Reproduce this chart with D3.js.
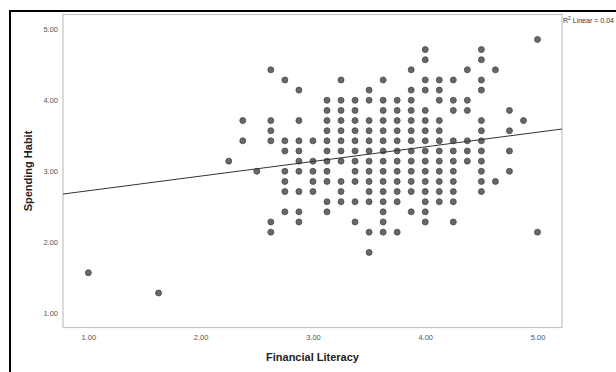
<!DOCTYPE html>
<html>
<head>
<meta charset="utf-8">
<script src="https://cdn.jsdelivr.net/npm/d3@7/dist/d3.min.js"></script>
<style>
  html, body { margin: 0; padding: 0; background: #fff; }
  svg { display: block; }
</style>
</head>
<body>
<svg id="chart" width="616" height="372"></svg>
<script>
// ---- Data ----
// Spending Habit levels (rows of the grid) and Financial Literacy values observed on each row
const spendingLevels = [4.857, 4.714, 4.571, 4.429, 4.286, 4.143, 4.000, 3.857, 3.714, 3.571,
  3.429, 3.286, 3.143, 3.000, 2.857, 2.714, 2.571, 2.429, 2.286, 2.143, 1.857, 1.571, 1.286];
const literacyAtLevel = [
  [5.0],
  [4.0, 4.5],
  [4.0, 4.5],
  [2.625, 3.875, 4.375, 4.625],
  [2.75, 3.25, 3.625, 4.0, 4.125, 4.25, 4.5],
  [2.875, 3.5, 3.875, 4.0, 4.125, 4.5],
  [3.125, 3.25, 3.375, 3.5, 3.625, 3.75, 3.875, 4.125, 4.25, 4.375],
  [3.125, 3.25, 3.375, 3.625, 3.75, 3.875, 4.0, 4.25, 4.375, 4.75],
  [2.375, 2.625, 2.875, 3.125, 3.25, 3.375, 3.5, 3.625, 3.75, 3.875, 4.0, 4.125, 4.5, 4.875],
  [2.625, 3.125, 3.25, 3.375, 3.5, 3.625, 3.75, 3.875, 4.0, 4.125, 4.5, 4.75],
  [2.375, 2.625, 2.75, 2.875, 3.0, 3.125, 3.25, 3.375, 3.5, 3.625, 3.75, 3.875, 4.0, 4.125, 4.25, 4.375, 4.5],
  [2.75, 2.875, 3.125, 3.25, 3.375, 3.5, 3.625, 3.75, 3.875, 4.0, 4.125, 4.25, 4.375, 4.5, 4.75],
  [2.25, 2.875, 3.0, 3.125, 3.25, 3.375, 3.5, 3.625, 3.75, 3.875, 4.0, 4.125, 4.25, 4.375, 4.5],
  [2.5, 2.75, 2.875, 3.0, 3.125, 3.375, 3.5, 3.625, 3.75, 3.875, 4.0, 4.125, 4.25, 4.5, 4.75],
  [2.75, 3.0, 3.125, 3.25, 3.375, 3.5, 3.625, 3.75, 3.875, 4.0, 4.125, 4.25, 4.5, 4.625],
  [2.75, 2.875, 3.0, 3.25, 3.5, 3.625, 3.75, 3.875, 4.0, 4.125, 4.25, 4.5],
  [3.125, 3.25, 3.375, 3.5, 3.625, 3.75, 4.0, 4.125, 4.25],
  [2.75, 2.875, 3.125, 3.625, 3.875, 4.0],
  [2.625, 2.875, 3.375, 3.625, 4.0, 4.25],
  [2.625, 3.5, 3.625, 3.75, 5.0],
  [3.5],
  [1.0],
  [1.625]
];
const xTicks = [1, 2, 3, 4, 5];
const yTicks = [1, 2, 3, 4, 5];
const fitIntercept = 2.52;   // fit line
const fitSlope = 0.206;
const fitLabel = "Linear = 0.04";
const xTitle = "Financial Literacy";
const yTitle = "Spending Habit";

// ---- Layout ----
const plot = { left: 63, right: 562, top: 14.5, bottom: 327.5 };
const x = d3.scaleLinear().domain([0.774, 5.218]).range([plot.left, plot.right]);
const y = d3.scaleLinear().domain([0.80, 5.208]).range([plot.bottom, plot.top]);

const svg = d3.select("#chart");
const font = "'Liberation Sans', Arial, sans-serif";

// outer black frame (left and top edges visible)
svg.append("line").attr("x1", 10).attr("x2", 10).attr("y1", 10).attr("y2", 372)
  .attr("stroke", "#000").attr("stroke-width", 2);
svg.append("line").attr("x1", 9).attr("x2", 616).attr("y1", 11).attr("y2", 11)
  .attr("stroke", "#000").attr("stroke-width", 2);

// plot frame
svg.append("rect")
  .attr("x", plot.left).attr("y", plot.top)
  .attr("width", plot.right - plot.left).attr("height", plot.bottom - plot.top)
  .attr("fill", "#fff").attr("stroke", "#c4c4c4").attr("stroke-width", 1.2);

// axes (labels only, no tick marks / domain)
const xAxis = d3.axisBottom(x).tickValues(xTicks).tickFormat(d3.format(".2f")).tickSize(0).tickPadding(0);
const gx = svg.append("g").attr("transform", `translate(0,${plot.bottom + 7})`).call(xAxis);
gx.select(".domain").remove();
gx.selectAll("text").attr("font-family", font).attr("font-size", 7.5).attr("fill", "#555").attr("dy", "0.71em");

const yAxis = d3.axisLeft(y).tickValues(yTicks).tickFormat(d3.format(".2f")).tickSize(0).tickPadding(0);
const gy = svg.append("g").attr("transform", `translate(${plot.left - 5},0)`).call(yAxis);
gy.select(".domain").remove();
gy.selectAll("text").attr("font-family", font).attr("font-size", 7.5).attr("fill", "#555");

// points
const points = [];
spendingLevels.forEach((s, i) => literacyAtLevel[i].forEach(l => points.push({ lit: l, spend: s })));
const clipId = "plotclip";
svg.append("clipPath").attr("id", clipId).append("rect")
  .attr("x", plot.left).attr("y", plot.top)
  .attr("width", plot.right - plot.left).attr("height", plot.bottom - plot.top);

svg.append("g").selectAll("circle").data(points).join("circle")
  .attr("cx", d => x(d.lit)).attr("cy", d => y(d.spend)).attr("r", 3)
  .attr("fill", "#676767").attr("stroke", "#4a4a4a").attr("stroke-width", 0.8);

// fit line
const [x0, x1] = x.domain();
svg.append("line")
  .attr("clip-path", `url(#${clipId})`)
  .attr("x1", x(x0)).attr("y1", y(fitIntercept + fitSlope * x0))
  .attr("x2", x(x1)).attr("y2", y(fitIntercept + fitSlope * x1))
  .attr("stroke", "#333").attr("stroke-width", 1);

// R² label
const r2 = svg.append("text").attr("x", plot.right + 1).attr("y", 23)
  .attr("font-family", font).attr("font-size", 7).attr("fill", "#333")
  .attr("textLength", 51).attr("lengthAdjust", "spacingAndGlyphs");
r2.append("tspan").text("R");
r2.append("tspan").text("2").attr("font-size", 4.8).attr("dy", -3);
r2.append("tspan").text(" " + fitLabel).attr("dy", 3);

// axis titles
svg.append("text").attr("x", (plot.left + plot.right) / 2).attr("y", 361)
  .attr("text-anchor", "middle").attr("font-family", font).attr("font-weight", "bold")
  .attr("font-size", 11).attr("fill", "#222").text(xTitle);

svg.append("text")
  .attr("transform", `translate(32,${(plot.top + plot.bottom) / 2}) rotate(-90)`)
  .attr("text-anchor", "middle").attr("font-family", font).attr("font-weight", "bold")
  .attr("font-size", 11).attr("fill", "#222").text(yTitle);
</script>
</body>
</html>
